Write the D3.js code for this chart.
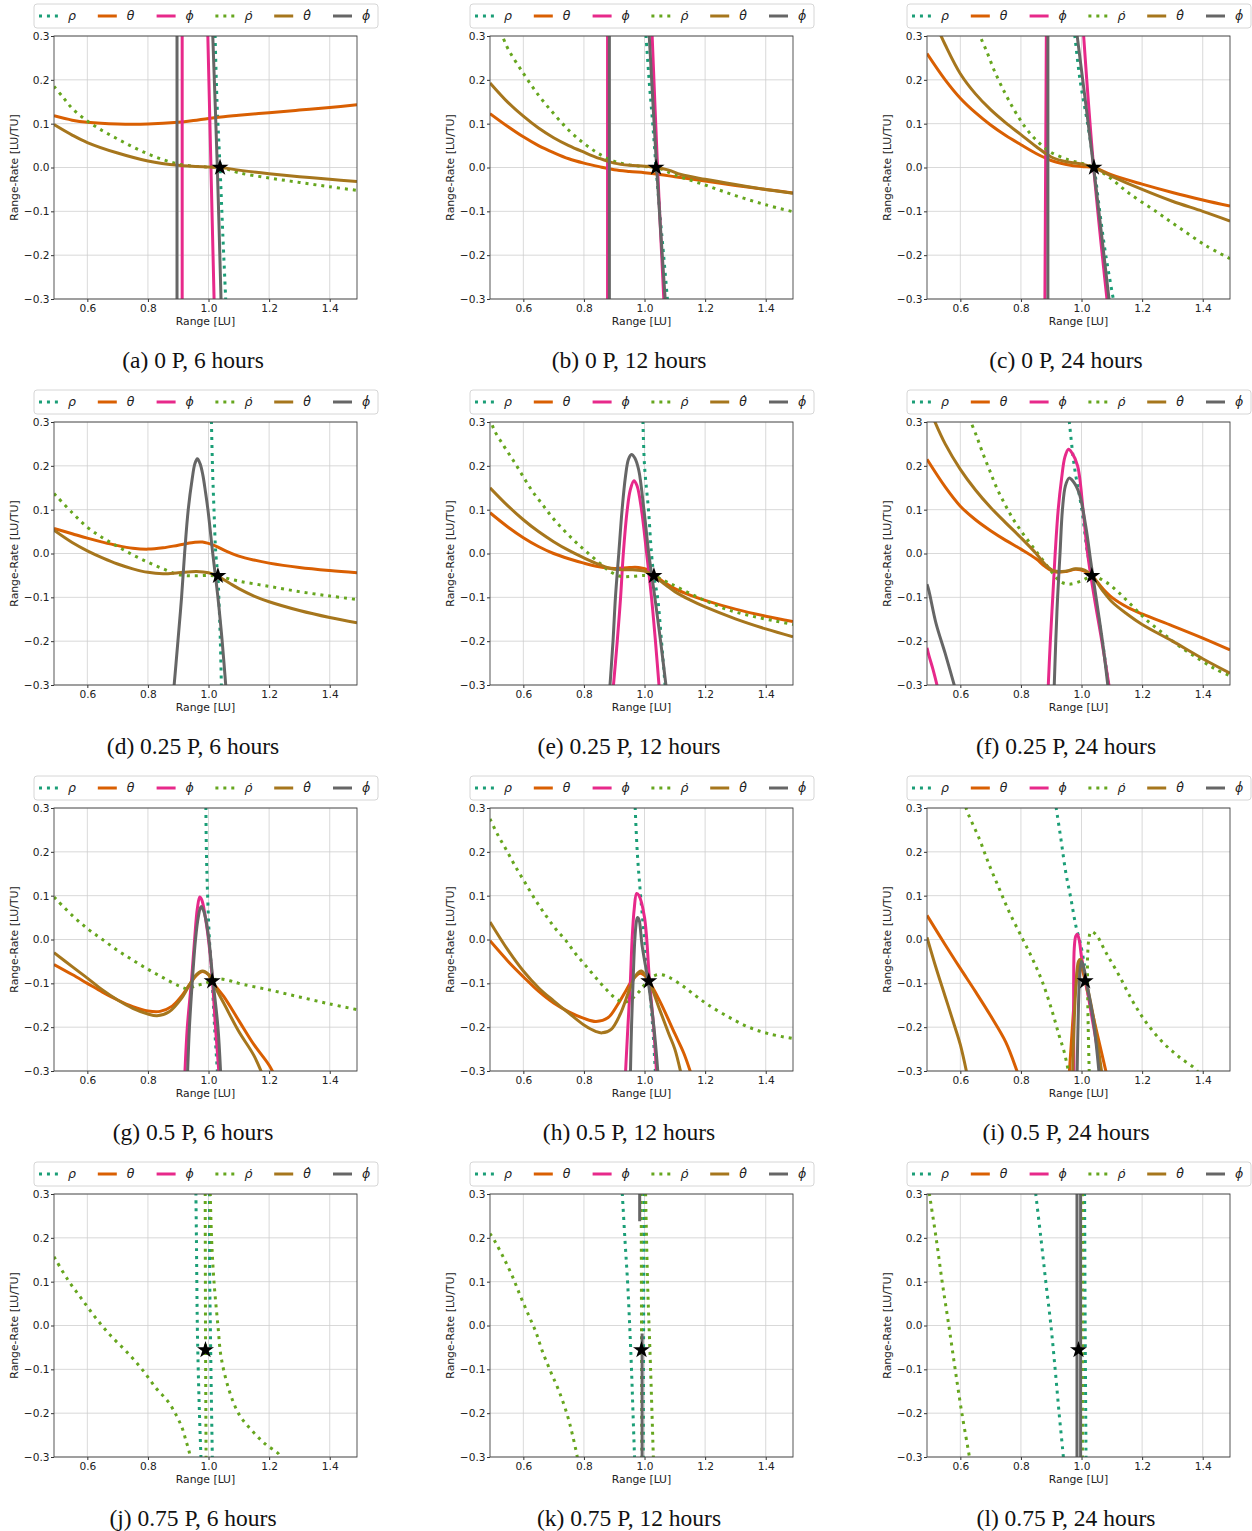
<!DOCTYPE html>
<html>
<head>
<meta charset="utf-8">
<script src="https://cdn.jsdelivr.net/npm/d3@7"></script>
<style>
  body { margin: 0; background: #fff; }
</style>
</head>
<body>
<div id="chart"></div>
<script>
// range vs range-rate curves, 12 panels (phase x propagation time)

// series, in legend order
const seriesKeys = ["rho", "theta", "phi", "rhoDot", "thetaDot", "phiDot"]
const seriesLabels = ["ρ", "θ", "ϕ", "ρ̇", "θ̇", "ϕ̇"]
const seriesColors = ["#1b9e77", "#d95f02", "#e7298a", "#66a61e", "#a6761d", "#666666"]
const seriesDotted = [true, false, false, true, false, false]

const captions = [
  "(a) 0 P, 6 hours", "(b) 0 P, 12 hours", "(c) 0 P, 24 hours",
  "(d) 0.25 P, 6 hours", "(e) 0.25 P, 12 hours", "(f) 0.25 P, 24 hours",
  "(g) 0.5 P, 6 hours", "(h) 0.5 P, 12 hours", "(i) 0.5 P, 24 hours",
  "(j) 0.75 P, 6 hours", "(k) 0.75 P, 12 hours", "(l) 0.75 P, 24 hours"
]

// reference point (star) per panel
const stars = [
  [1.038, 0], [1.038, 0], [1.041, 0],
  [1.031, -0.051], [1.031, -0.051], [1.034, -0.051],
  [1.012, -0.095], [1.014, -0.095], [1.012, -0.095],
  [0.99, -0.056], [0.99, -0.056], [0.99, -0.056]
]

const xTicks = [0.6, 0.8, 1.0, 1.2, 1.4]
const yTicks = [-0.3, -0.2, -0.1, 0.0, 0.1, 0.2, 0.3]

// curve points [range, range-rate]; null splits a curve into branches
const panelA = {
  rho: [[1.021,0.32],[1.028,0.15],[1.038,0],[1.047,-0.15],[1.058,-0.32]],
  theta: [[0.49,0.118],[0.55,0.108],[0.6,0.103],[0.7,0.099],[0.8,0.099],[0.9,0.103],[0.95,0.107],[1.0,0.112],[1.05,0.116],[1.1,0.119],[1.2,0.125],[1.3,0.131],[1.4,0.137],[1.49,0.143]],
  phi: [[0.913,-0.32],[0.913,0.32],null,[0.997,0.32],[1.019,-0.32]],
  rhoDot: [[0.49,0.185],[0.52,0.16],[0.55,0.135],[0.6,0.106],[0.65,0.084],[0.7,0.065],[0.75,0.047],[0.8,0.031],[0.85,0.018],[0.9,0.008],[0.95,0.003],[1.0,0.001],[1.04,0],[1.1,-0.012],[1.2,-0.024],[1.3,-0.034],[1.4,-0.044],[1.49,-0.052]],
  thetaDot: [[0.49,0.098],[0.55,0.074],[0.6,0.057],[0.7,0.033],[0.8,0.015],[0.9,0.005],[1.0,0.001],[1.04,0],[1.1,-0.006],[1.2,-0.014],[1.3,-0.021],[1.4,-0.027],[1.49,-0.032]],
  phiDot: [[0.896,-0.32],[0.896,0.32],null,[1.013,0.32],[1.029,0],[1.042,-0.32]]
}
const panelB = {
  rho: [[1.003,0.32],[1.015,0.2],[1.027,0.1],[1.038,0],[1.05,-0.1],[1.063,-0.2],[1.078,-0.32]],
  theta: [[0.49,0.123],[0.55,0.093],[0.6,0.07],[0.65,0.05],[0.7,0.034],[0.75,0.02],[0.8,0.01],[0.85,0.002],[0.9,-0.005],[0.95,-0.009],[1.0,-0.012],[1.05,-0.016],[1.1,-0.021],[1.2,-0.031],[1.3,-0.041],[1.4,-0.05],[1.49,-0.058]],
  phi: [[0.878,-0.32],[0.878,0.32],null,[1.024,0.32],[1.043,0],[1.065,-0.32]],
  rhoDot: [[0.525,0.31],[0.531,0.3],[0.55,0.27],[0.6,0.215],[0.65,0.165],[0.7,0.123],[0.75,0.085],[0.8,0.055],[0.85,0.031],[0.9,0.014],[0.95,0.006],[1.0,0.002],[1.04,0],[1.1,-0.017],[1.2,-0.04],[1.3,-0.064],[1.4,-0.085],[1.49,-0.101]],
  thetaDot: [[0.49,0.193],[0.55,0.148],[0.6,0.117],[0.65,0.09],[0.7,0.068],[0.75,0.05],[0.8,0.035],[0.85,0.021],[0.9,0.01],[0.95,0.005],[1.0,0.003],[1.04,0],[1.08,-0.006],[1.12,-0.016],[1.2,-0.027],[1.3,-0.039],[1.4,-0.05],[1.49,-0.059]],
  phiDot: [[0.884,-0.32],[0.884,0.32],null,[1.014,0.32],[1.04,0],[1.07,-0.32]]
}
const panelC = {
  rho: [[0.975,0.32],[0.995,0.2],[1.02,0.1],[1.042,0],[1.06,-0.1],[1.08,-0.2],[1.11,-0.32]],
  theta: [[0.49,0.26],[0.55,0.2],[0.6,0.158],[0.65,0.125],[0.7,0.097],[0.75,0.073],[0.8,0.052],[0.85,0.032],[0.9,0.016],[0.95,0.007],[1.0,0.002],[1.04,0],[1.1,-0.017],[1.2,-0.038],[1.3,-0.057],[1.4,-0.074],[1.49,-0.088]],
  phi: [[0.879,-0.32],[0.884,0.32],null,[1.005,0.32],[1.04,0],[1.087,-0.32]],
  rhoDot: [[0.66,0.31],[0.665,0.3],[0.687,0.265],[0.714,0.218],[0.748,0.169],[0.778,0.131],[0.811,0.095],[0.847,0.065],[0.896,0.036],[0.959,0.017],[1.003,0.009],[1.042,0],[1.1,-0.027],[1.157,-0.059],[1.245,-0.1],[1.322,-0.137],[1.41,-0.178],[1.49,-0.208]],
  thetaDot: [[0.53,0.31],[0.55,0.28],[0.6,0.214],[0.65,0.168],[0.7,0.132],[0.75,0.102],[0.8,0.075],[0.85,0.048],[0.9,0.024],[0.95,0.013],[1.0,0.008],[1.04,0],[1.1,-0.02],[1.2,-0.05],[1.3,-0.077],[1.4,-0.1],[1.49,-0.122]],
  phiDot: [[0.889,-0.32],[0.889,0.32],null,[0.982,0.32],[1.04,0],[1.094,-0.32]]
}
const panelD = {
  rho: [[1.009,0.32],[1.013,0.2],[1.018,0.1],[1.024,0],[1.031,-0.052],[1.034,-0.1],[1.039,-0.2],[1.043,-0.32]],
  theta: [[0.49,0.057],[0.55,0.045],[0.6,0.035],[0.65,0.026],[0.7,0.018],[0.75,0.012],[0.8,0.01],[0.85,0.013],[0.9,0.019],[0.95,0.025],[0.98,0.026],[1.02,0.018],[1.06,0.005],[1.1,-0.006],[1.15,-0.015],[1.2,-0.022],[1.3,-0.032],[1.4,-0.039],[1.49,-0.044]],
  phi: [],
  rhoDot: [[0.49,0.137],[0.55,0.093],[0.6,0.06],[0.65,0.036],[0.7,0.016],[0.75,-0.003],[0.8,-0.02],[0.85,-0.035],[0.9,-0.048],[0.95,-0.051],[1.0,-0.05],[1.031,-0.052],[1.1,-0.063],[1.2,-0.075],[1.3,-0.087],[1.4,-0.097],[1.49,-0.105]],
  thetaDot: [[0.49,0.053],[0.55,0.025],[0.6,0.006],[0.65,-0.01],[0.7,-0.024],[0.75,-0.035],[0.8,-0.043],[0.85,-0.046],[0.9,-0.044],[0.96,-0.041],[1.0,-0.044],[1.031,-0.052],[1.07,-0.068],[1.1,-0.08],[1.15,-0.097],[1.2,-0.11],[1.3,-0.13],[1.4,-0.146],[1.49,-0.158]],
  phiDot: [[0.884,-0.32],[0.899,-0.2],[0.911,-0.1],[0.921,0],[0.933,0.1],[0.946,0.17],[0.955,0.205],[0.963,0.216],[0.972,0.205],[0.981,0.18],[0.99,0.14],[0.998,0.1],[1.014,0],[1.031,-0.1],[1.045,-0.2],[1.059,-0.32]]
}
const panelE = {
  rho: [[0.994,0.32],[1.0,0.2],[1.013,0.1],[1.023,0],[1.031,-0.052],[1.043,-0.1],[1.056,-0.2],[1.07,-0.32]],
  theta: [[0.49,0.093],[0.55,0.06],[0.6,0.036],[0.65,0.016],[0.7,0.0],[0.75,-0.012],[0.8,-0.022],[0.85,-0.03],[0.9,-0.034],[0.95,-0.032],[0.98,-0.032],[1.01,-0.037],[1.031,-0.048],[1.07,-0.068],[1.1,-0.08],[1.15,-0.095],[1.2,-0.107],[1.3,-0.127],[1.4,-0.143],[1.49,-0.155]],
  phi: [[0.895,-0.32],[0.91,-0.2],[0.921,-0.1],[0.93,0],[0.943,0.1],[0.953,0.145],[0.965,0.166],[0.975,0.155],[0.99,0.1],[1.007,0],[1.023,-0.1],[1.036,-0.2],[1.05,-0.32]],
  rhoDot: [[0.49,0.31],[0.503,0.283],[0.536,0.245],[0.569,0.21],[0.599,0.176],[0.63,0.142],[0.663,0.112],[0.696,0.082],[0.734,0.053],[0.77,0.028],[0.805,0.006],[0.849,-0.02],[0.888,-0.042],[0.92,-0.052],[0.96,-0.052],[1.0,-0.05],[1.031,-0.052],[1.08,-0.067],[1.146,-0.09],[1.212,-0.111],[1.278,-0.129],[1.355,-0.143],[1.432,-0.154],[1.49,-0.162]],
  thetaDot: [[0.49,0.15],[0.55,0.108],[0.6,0.077],[0.65,0.05],[0.7,0.027],[0.75,0.007],[0.8,-0.01],[0.85,-0.025],[0.9,-0.036],[0.96,-0.037],[1.0,-0.04],[1.031,-0.052],[1.07,-0.072],[1.1,-0.087],[1.15,-0.106],[1.2,-0.122],[1.3,-0.149],[1.4,-0.172],[1.49,-0.19]],
  phiDot: [[0.884,-0.32],[0.896,-0.2],[0.904,-0.1],[0.915,0],[0.926,0.1],[0.937,0.175],[0.947,0.215],[0.957,0.226],[0.968,0.218],[0.981,0.19],[0.998,0.1],[1.014,0],[1.034,-0.1],[1.053,-0.2],[1.074,-0.32]]
}
const panelF = {
  rho: [[0.957,0.32],[0.976,0.2],[1.001,0.1],[1.02,0],[1.036,-0.052],[1.045,-0.1],[1.069,-0.2],[1.093,-0.32]],
  theta: [[0.49,0.215],[0.55,0.152],[0.6,0.108],[0.65,0.077],[0.7,0.052],[0.75,0.03],[0.8,0.01],[0.85,-0.012],[0.88,-0.03],[0.91,-0.042],[0.95,-0.041],[0.98,-0.036],[1.01,-0.04],[1.036,-0.052],[1.07,-0.08],[1.1,-0.1],[1.15,-0.122],[1.2,-0.138],[1.3,-0.165],[1.4,-0.193],[1.49,-0.22]],
  phi: [[0.49,-0.215],[0.496,-0.232],[0.51,-0.265],[0.53,-0.32],null,[0.889,-0.32],[0.897,-0.2],[0.905,-0.1],[0.913,0],[0.923,0.1],[0.934,0.17],[0.945,0.22],[0.957,0.238],[0.968,0.23],[0.987,0.2],[1.005,0.1],[1.02,0],[1.042,-0.1],[1.067,-0.2],[1.095,-0.32]],
  rhoDot: [[0.63,0.31],[0.635,0.3],[0.654,0.267],[0.674,0.229],[0.696,0.191],[0.718,0.153],[0.745,0.115],[0.773,0.08],[0.805,0.047],[0.838,0.016],[0.871,-0.014],[0.904,-0.044],[0.93,-0.064],[0.959,-0.07],[0.998,-0.063],[1.036,-0.052],[1.08,-0.065],[1.124,-0.09],[1.168,-0.12],[1.212,-0.15],[1.267,-0.181],[1.322,-0.211],[1.388,-0.241],[1.443,-0.264],[1.49,-0.279]],
  thetaDot: [[0.51,0.31],[0.55,0.25],[0.6,0.192],[0.65,0.145],[0.7,0.105],[0.75,0.07],[0.8,0.036],[0.85,0.0],[0.88,-0.025],[0.91,-0.04],[0.95,-0.04],[0.98,-0.035],[1.01,-0.038],[1.036,-0.052],[1.07,-0.085],[1.1,-0.11],[1.15,-0.138],[1.2,-0.162],[1.3,-0.2],[1.4,-0.24],[1.49,-0.273]],
  phiDot: [[0.49,-0.07],[0.496,-0.084],[0.52,-0.16],[0.55,-0.228],[0.588,-0.32],null,[0.909,-0.32],[0.915,-0.2],[0.921,-0.1],[0.929,0],[0.937,0.1],[0.947,0.155],[0.959,0.172],[0.972,0.165],[0.992,0.138],[1.014,0.062],[1.031,-0.021],[1.049,-0.105],[1.069,-0.2],[1.09,-0.32]]
}
const panelG = {
  rho: [[0.991,0.32],[0.993,0.2],[0.997,0.1],[1.003,0],[1.012,-0.096],[1.02,-0.2],[1.031,-0.32]],
  theta: [[0.49,-0.057],[0.55,-0.08],[0.6,-0.1],[0.65,-0.12],[0.7,-0.138],[0.75,-0.153],[0.8,-0.163],[0.84,-0.164],[0.88,-0.152],[0.91,-0.13],[0.94,-0.1],[0.96,-0.082],[0.98,-0.073],[1.0,-0.08],[1.012,-0.096],[1.05,-0.13],[1.1,-0.185],[1.15,-0.24],[1.2,-0.287],[1.225,-0.32]],
  phi: [[0.921,-0.32],[0.93,-0.2],[0.943,-0.1],[0.954,0],[0.963,0.07],[0.971,0.097],[0.978,0.09],[0.992,0.04],[1.009,-0.06],[1.023,-0.2],[1.036,-0.32]],
  rhoDot: [[0.49,0.097],[0.55,0.055],[0.6,0.025],[0.65,0.0],[0.7,-0.025],[0.75,-0.047],[0.8,-0.068],[0.85,-0.087],[0.9,-0.105],[0.93,-0.112],[0.96,-0.105],[0.99,-0.1],[1.012,-0.093],[1.04,-0.09],[1.07,-0.094],[1.1,-0.1],[1.2,-0.115],[1.3,-0.131],[1.4,-0.147],[1.49,-0.16]],
  thetaDot: [[0.49,-0.03],[0.55,-0.062],[0.6,-0.088],[0.65,-0.115],[0.7,-0.138],[0.75,-0.157],[0.8,-0.17],[0.83,-0.174],[0.87,-0.165],[0.91,-0.135],[0.94,-0.1],[0.96,-0.08],[0.98,-0.072],[1.0,-0.08],[1.012,-0.096],[1.05,-0.145],[1.1,-0.21],[1.15,-0.265],[1.185,-0.32]],
  phiDot: [[0.93,-0.32],[0.937,-0.2],[0.946,-0.1],[0.957,0],[0.966,0.05],[0.975,0.075],[0.984,0.065],[0.998,0.017],[1.014,-0.09],[1.031,-0.2],[1.041,-0.32]]
}
const panelH = {
  rho: [[0.968,0.32],[0.976,0.2],[0.987,0.1],[1.0,0],[1.014,-0.095],[1.027,-0.2],[1.037,-0.32]],
  theta: [[0.49,-0.003],[0.55,-0.05],[0.6,-0.085],[0.65,-0.118],[0.7,-0.145],[0.75,-0.165],[0.8,-0.18],[0.84,-0.187],[0.88,-0.178],[0.91,-0.15],[0.94,-0.115],[0.96,-0.092],[0.985,-0.077],[1.0,-0.082],[1.014,-0.095],[1.05,-0.14],[1.1,-0.215],[1.13,-0.26],[1.16,-0.32]],
  phi: [[0.936,-0.32],[0.945,-0.2],[0.953,-0.1],[0.959,0],[0.966,0.07],[0.974,0.105],[0.982,0.1],[1.0,0.05],[1.017,-0.1],[1.03,-0.2],[1.041,-0.32]],
  rhoDot: [[0.49,0.275],[0.514,0.241],[0.545,0.203],[0.575,0.165],[0.608,0.127],[0.641,0.089],[0.674,0.055],[0.707,0.024],[0.74,-0.002],[0.773,-0.033],[0.805,-0.059],[0.838,-0.086],[0.871,-0.112],[0.904,-0.134],[0.932,-0.143],[0.959,-0.135],[0.981,-0.12],[0.998,-0.105],[1.014,-0.093],[1.031,-0.083],[1.053,-0.08],[1.08,-0.086],[1.124,-0.105],[1.168,-0.128],[1.212,-0.15],[1.278,-0.177],[1.344,-0.2],[1.41,-0.215],[1.49,-0.226]],
  thetaDot: [[0.49,0.04],[0.55,-0.025],[0.6,-0.072],[0.65,-0.11],[0.7,-0.14],[0.75,-0.168],[0.8,-0.195],[0.84,-0.21],[0.86,-0.213],[0.89,-0.205],[0.92,-0.17],[0.95,-0.115],[0.97,-0.083],[0.99,-0.072],[1.014,-0.095],[1.05,-0.16],[1.08,-0.215],[1.1,-0.25],[1.125,-0.32]],
  phiDot: [[0.953,-0.32],[0.957,-0.2],[0.962,-0.1],[0.968,0],[0.973,0.04],[0.977,0.05],[0.982,0.045],[0.992,-0.014],[1.014,-0.105],[1.031,-0.2],[1.046,-0.32]]
}
const panelI = {
  rho: [[0.912,0.32],[0.932,0.229],[0.948,0.153],[0.965,0.093],[0.981,0.032],[0.998,-0.014],[1.01,-0.06]],
  theta: [[0.49,0.055],[0.55,-0.012],[0.6,-0.066],[0.65,-0.119],[0.7,-0.174],[0.75,-0.234],[0.787,-0.3],[0.797,-0.32],null,[0.958,-0.32],[0.965,-0.25],[0.975,-0.15],[0.985,-0.08],[0.993,-0.055],[1.003,-0.07],[1.02,-0.12],[1.04,-0.18],[1.06,-0.24],[1.087,-0.32]],
  phi: [[0.975,-0.32],[0.974,-0.2],[0.974,-0.1],[0.976,-0.02],[0.981,0.008],[0.986,0.012],[0.992,0.0],[1.0,-0.04],[1.015,-0.1],[1.035,-0.18],[1.05,-0.24],[1.067,-0.32]],
  rhoDot: [[0.615,0.32],[0.619,0.3],[0.663,0.229],[0.696,0.169],[0.729,0.115],[0.762,0.062],[0.805,0.002],[0.838,-0.044],[0.871,-0.097],[0.904,-0.166],[0.926,-0.219],[0.943,-0.257],[0.962,-0.32],null,[1.026,-0.32],[1.022,-0.2],[1.02,-0.1],[1.02,-0.04],[1.025,0.005],[1.031,0.018],[1.047,0.012],[1.08,-0.029],[1.124,-0.082],[1.168,-0.14],[1.212,-0.188],[1.267,-0.234],[1.322,-0.268],[1.382,-0.3],[1.39,-0.32]],
  thetaDot: [[0.49,0.005],[0.52,-0.065],[0.55,-0.13],[0.58,-0.195],[0.6,-0.24],[0.626,-0.32],null,[0.97,-0.32],[0.975,-0.2],[0.982,-0.1],[0.99,-0.05],[0.996,-0.045],[1.003,-0.06],[1.02,-0.11],[1.04,-0.18],[1.07,-0.32]],
  phiDot: [[0.985,-0.32],[0.99,-0.15],[0.995,-0.07],[1.0,-0.05],[1.006,-0.06],[1.02,-0.11],[1.04,-0.19],[1.06,-0.32]]
}
const panelJ = {
  rho: [[0.976,-0.32],[0.97,-0.2],[0.966,-0.1],[0.963,0],[0.96,0.2],[0.958,0.32],null,[1.003,0.32],[1.004,0.1],[1.006,0],[1.009,-0.15],[1.013,-0.32]],
  theta: [],
  phi: [],
  rhoDot: [[0.49,0.157],[0.534,0.106],[0.58,0.062],[0.627,0.018],[0.677,-0.023],[0.734,-0.063],[0.784,-0.103],[0.827,-0.143],[0.866,-0.173],[0.893,-0.204],[0.913,-0.234],[0.926,-0.264],[0.937,-0.291],[0.94,-0.32],null,[0.989,0.32],[0.99,0],[0.992,-0.32],null,[1.005,0.32],[1.01,0.2],[1.018,0.1],[1.031,0],[1.042,-0.074],[1.069,-0.15],[1.102,-0.204],[1.146,-0.242],[1.19,-0.272],[1.234,-0.295],[1.245,-0.32]],
  thetaDot: [],
  phiDot: []
}
const panelK = {
  rho: [[0.925,0.32],[0.935,0.2],[0.944,0.1],[0.951,0],[0.957,-0.1],[0.962,-0.2],[0.968,-0.32],null,[0.998,0.32],[0.997,0],[0.996,-0.32]],
  theta: [],
  phi: [],
  rhoDot: [[0.49,0.21],[0.507,0.191],[0.536,0.153],[0.564,0.112],[0.591,0.066],[0.619,0.021],[0.641,-0.014],[0.663,-0.059],[0.69,-0.105],[0.718,-0.15],[0.745,-0.204],[0.762,-0.249],[0.778,-0.3],[0.782,-0.32],null,[0.989,0.32],[0.99,0],[0.991,-0.32],null,[1.003,0.32],[1.01,0.1],[1.02,-0.1],[1.03,-0.32]],
  thetaDot: [],
  phiDot: [[0.984,0.32],[0.984,0.238],null,[0.992,-0.018],[0.992,-0.32]]
}
const panelL = {
  rho: [[0.846,0.32],[0.849,0.3],[0.866,0.199],[0.882,0.1],[0.899,0],[0.913,-0.1],[0.926,-0.2],[0.94,-0.3],[0.942,-0.32],null,[1.01,0.32],[1.012,0],[1.015,-0.32]],
  theta: [],
  phi: [],
  rhoDot: [[0.494,0.32],[0.498,0.3],[0.52,0.2],[0.54,0.1],[0.562,0],[0.583,-0.1],[0.605,-0.2],[0.63,-0.3],[0.634,-0.32],null,[1.003,0.32],[1.003,-0.32]],
  thetaDot: [],
  phiDot: [[0.985,0.32],[0.985,-0.32],null,[0.997,0.32],[0.997,-0.32]]
}

const panels = [panelA, panelB, panelC, panelD, panelE, panelF, panelG, panelH, panelI, panelJ, panelK, panelL]

// layout
const width = 1252
const height = 1531
const colX = [54, 490, 927]
const rowY = [36, 422, 808, 1194]
const plotW = 303
const plotH = 263

const xScale = d3.scaleLinear([0.49, 1.49], [0, plotW])
const yScale = d3.scaleLinear([-0.3, 0.3], [plotH, 0])
const fmt = d3.format(".1f")

const line = d3.line()
  .defined(d => d != null)
  .x(d => xScale(d[0]))
  .y(d => yScale(d[1]))
  .curve(d3.curveCatmullRom.alpha(0.5))

const svg = d3.select("#chart")
  .append("svg")
  .attr("width", width)
  .attr("height", height)
  .attr("viewBox", [0, 0, width, height])
  .style("font-family", "'DejaVu Sans', sans-serif")

panels.forEach((p, i) => {
  const col = i % 3
  const row = Math.floor(i / 3)
  const g = svg.append("g").attr("transform", `translate(${colX[col]},${rowY[row]})`)

  g.append("clipPath").attr("id", `clip${i}`)
    .append("rect").attr("width", plotW).attr("height", plotH)

  // grid
  g.append("g").selectAll("line").data(xTicks).join("line")
    .attr("x1", d => xScale(d)).attr("x2", d => xScale(d))
    .attr("y1", 0).attr("y2", plotH)
    .attr("stroke", "#cfcfcf").attr("stroke-width", 0.8)
  g.append("g").selectAll("line").data(yTicks).join("line")
    .attr("x1", 0).attr("x2", plotW)
    .attr("y1", d => yScale(d)).attr("y2", d => yScale(d))
    .attr("stroke", "#cfcfcf").attr("stroke-width", 0.8)

  // axes
  const xAxis = g.append("g")
    .attr("transform", `translate(0,${plotH})`)
    .call(d3.axisBottom(xScale).tickValues(xTicks).tickFormat(fmt).tickSize(3).tickPadding(2).tickSizeOuter(0))
  const yAxis = g.append("g")
    .call(d3.axisLeft(yScale).tickValues(yTicks).tickFormat(fmt).tickSize(3).tickPadding(1.5).tickSizeOuter(0))
  ;[xAxis, yAxis].forEach(a => {
    a.select(".domain").remove()
    a.selectAll("text").attr("font-size", "10.6px").attr("fill", "#222").style("font-family", "'DejaVu Sans', sans-serif")
    a.selectAll("line").attr("stroke", "#333")
  })

  g.append("text")
    .attr("x", plotW / 2).attr("y", plotH + 26)
    .attr("text-anchor", "middle").attr("font-size", "10.8px").attr("fill", "#222")
    .text("Range [LU]")
  g.append("text")
    .attr("transform", `translate(-36,${plotH / 2}) rotate(-90)`)
    .attr("text-anchor", "middle").attr("font-size", "10.8px").attr("fill", "#222")
    .text("Range-Rate [LU/TU]")

  // curves
  const curves = g.append("g").attr("clip-path", `url(#clip${i})`)
  seriesKeys.forEach((k, s) => {
    if (!p[k] || p[k].length === 0) return
    curves.append("path")
      .attr("d", line(p[k]))
      .attr("fill", "none")
      .attr("stroke", seriesColors[s])
      .attr("stroke-width", 3)
      .attr("stroke-dasharray", seriesDotted[s] ? "3,4.95" : null)
      .attr("stroke-linecap", "butt")
  })

  // star
  g.append("path")
    .attr("d", d3.symbol(d3.symbolStar, 90)())
    .attr("transform", `translate(${xScale(stars[i][0])},${yScale(stars[i][1])})`)
    .attr("fill", "#000")

  // frame
  g.append("rect")
    .attr("width", plotW).attr("height", plotH)
    .attr("fill", "none").attr("stroke", "#444").attr("stroke-width", 0.9)

  // legend
  const lg = g.append("g").attr("transform", "translate(-20,-32)")
  lg.append("rect")
    .attr("width", 344).attr("height", 24).attr("rx", 3)
    .attr("fill", "#fff").attr("stroke", "#d6d6d6")
  seriesKeys.forEach((k, s) => {
    const x0 = 5 + s * 58.8
    lg.append("line")
      .attr("x1", x0).attr("x2", x0 + 19).attr("y1", 12).attr("y2", 12)
      .attr("stroke", seriesColors[s]).attr("stroke-width", 3)
      .attr("stroke-dasharray", seriesDotted[s] ? "3,4.95" : null)
    lg.append("text")
      .attr("x", x0 + 29).attr("y", 16)
      .attr("font-size", "12.5px").attr("font-style", "italic").attr("fill", "#222")
      .text(seriesLabels[s])
  })

  // caption
  g.append("text")
    .attr("x", 139).attr("y", plotH + 69)
    .attr("text-anchor", "middle")
    .attr("font-size", "23.5px")
    .style("font-family", "'Liberation Serif', 'Times New Roman', serif")
    .attr("fill", "#111")
    .text(captions[i])
})
</script>
</body>
</html>
